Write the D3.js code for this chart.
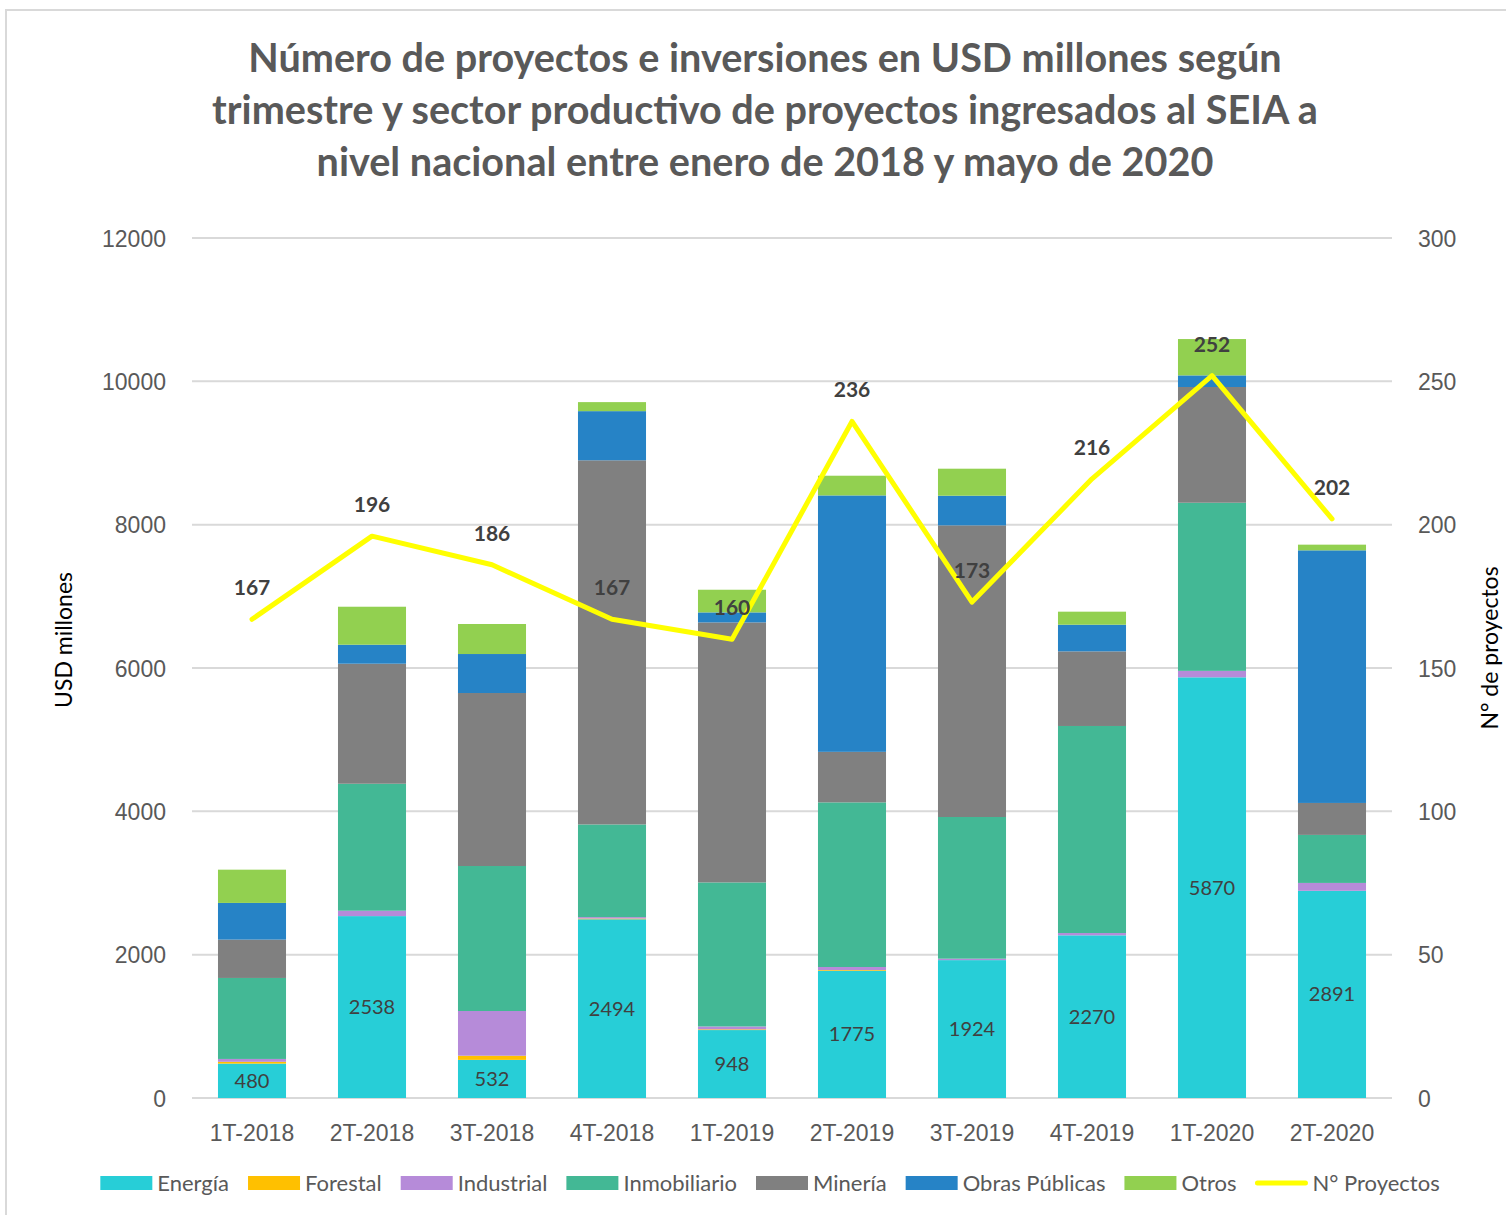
<!DOCTYPE html>
<html>
<head>
<meta charset="utf-8">
<script src="https://cdn.jsdelivr.net/npm/d3@7"></script>
<style>
  body { margin: 0; background: #fff; }
  svg { display: block; font-family: Lato, "Open Sans", sans-serif; }
</style>
</head>
<body>
<svg id="chart" width="1506" height="1215"></svg>
<script>
// quarters on the x axis
const quarters = ["1T-2018", "2T-2018", "3T-2018", "4T-2018", "1T-2019", "2T-2019", "3T-2019", "4T-2019", "1T-2020", "2T-2020"]
// investment by sector, USD millones
const energia      = [480, 2538, 532, 2494, 948, 1775, 1924, 2270, 5870, 2891]
const forestal     = [25, 0, 58, 10, 10, 10, 0, 0, 0, 0]
const industrial   = [40, 75, 624, 20, 40, 43, 20, 32, 90, 110]
const inmobiliario = [1130, 1772, 2023, 1293, 2010, 2297, 1977, 2889, 2346, 670]
const mineria      = [535, 1675, 2414, 5081, 3628, 705, 4069, 1041, 1615, 446]
const obras        = [512, 265, 544, 686, 140, 3578, 414, 372, 162, 3525]
const otros        = [464, 530, 419, 126, 316, 275, 377, 182, 507, 79]
// number of projects (right axis)
const proyectos    = [167, 196, 186, 167, 160, 236, 173, 216, 252, 202]

const sectorNames  = ["Energía", "Forestal", "Industrial", "Inmobiliario", "Minería", "Obras Públicas", "Otros"]
const sectorColors = ["#27CED7", "#FFC000", "#B68BD9", "#43B895", "#808080", "#2683C6", "#92D050"]
const leftTicks  = [0, 2000, 4000, 6000, 8000, 10000, 12000]
const rightTicks = [0, 50, 100, 150, 200, 250, 300]
const titleLines = [
  "Número de proyectos e inversiones en USD millones según",
  "trimestre y sector productivo de proyectos ingresados al SEIA a",
  "nivel nacional entre enero de 2018 y mayo de 2020"
]

const svg = d3.select("#chart")
const width = +svg.attr("width")
const height = +svg.attr("height")
const margins = {left: 192, right: 114, top: 238, bottom: 117}
const textGrey = "#595959"
const labelGrey = "#404040"

// chart border (light frame)
svg.append("path")
  .attr("d", `M6,${height} V10 H${width}`)
  .attr("fill", "none")
  .attr("stroke", "#D9D9D9")
  .attr("stroke-width", 2)

// title
svg.append("g").selectAll("text")
  .data(titleLines)
  .join("text")
  .attr("x", 765)
  .attr("y", (d, i) => 72 + i * 52)
  .attr("text-anchor", "middle")
  .attr("font-weight", "bold")
  .attr("font-size", 39.6)
  .attr("fill", textGrey)
  .text(d => d)

// scales
const x = d3.scaleBand()
  .domain(quarters)
  .range([margins.left, width - margins.right])
  .paddingInner(0.433)
  .paddingOuter(0.2165)
const yLeft = d3.scaleLinear()
  .domain([0, 12000])
  .range([height - margins.bottom, margins.top])
const yRight = d3.scaleLinear()
  .domain([0, 300])
  .range([height - margins.bottom, margins.top])

// gridlines
svg.append("g").selectAll("line")
  .data(leftTicks)
  .join("line")
  .attr("x1", margins.left)
  .attr("x2", width - margins.right)
  .attr("y1", d => yLeft(d))
  .attr("y2", d => yLeft(d))
  .attr("stroke", "#D9D9D9")
  .attr("stroke-width", 2)

// axes
const leftAxis = svg.append("g")
  .attr("transform", `translate(${margins.left - 26},0)`)
  .call(d3.axisLeft(yLeft).tickValues(leftTicks).tickFormat(d3.format("d")).tickSize(0).tickPadding(0))
const rightAxis = svg.append("g")
  .attr("transform", `translate(${width - margins.right + 26},0)`)
  .call(d3.axisRight(yRight).tickValues(rightTicks).tickFormat(d3.format("d")).tickSize(0).tickPadding(0))
const bottomAxis = svg.append("g")
  .attr("transform", `translate(0,${height - margins.bottom})`)
  .call(d3.axisBottom(x).tickSize(0).tickPadding(27))
;[leftAxis, rightAxis, bottomAxis].forEach(g => {
  g.select(".domain").remove()
  g.selectAll("text").attr("font-size", 23).attr("fill", textGrey).attr("font-family", null)
})
leftAxis.selectAll("text").attr("dy", "0.35em")
rightAxis.selectAll("text").attr("dy", "0.35em")

// axis titles
svg.append("text")
  .attr("transform", "rotate(-90)")
  .attr("x", -640)
  .attr("y", 72)
  .attr("text-anchor", "middle")
  .attr("font-size", 23)
  .attr("fill", "#000")
  .text("USD millones")
svg.append("text")
  .attr("transform", "rotate(-90)")
  .attr("x", -648)
  .attr("y", 1498)
  .attr("text-anchor", "middle")
  .attr("font-size", 23)
  .attr("fill", "#000")
  .text("N° de proyectos")

// stacked bars
const rows = quarters.map((q, i) => ({
  quarter: q,
  "Energía": energia[i],
  "Forestal": forestal[i],
  "Industrial": industrial[i],
  "Inmobiliario": inmobiliario[i],
  "Minería": mineria[i],
  "Obras Públicas": obras[i],
  "Otros": otros[i]
}))
const stacked = d3.stack().keys(sectorNames)(rows)

svg.append("g").selectAll("g")
  .data(stacked)
  .join("g")
  .attr("fill", (d, i) => sectorColors[i])
  .selectAll("rect")
  .data(d => d)
  .join("rect")
  .attr("x", d => x(d.data.quarter))
  .attr("width", x.bandwidth())
  .attr("y", d => yLeft(d[1]))
  .attr("height", d => yLeft(d[0]) - yLeft(d[1]))

// Energía value labels, centred in the segment
svg.append("g").selectAll("text")
  .data(stacked[0])
  .join("text")
  .attr("x", d => x(d.data.quarter) + x.bandwidth() / 2)
  .attr("y", d => (yLeft(d[0]) + yLeft(d[1])) / 2)
  .attr("dy", "0.35em")
  .attr("text-anchor", "middle")
  .attr("font-size", 20)
  .attr("fill", labelGrey)
  .text(d => d.data["Energía"])

// line for number of projects
const line = d3.line()
  .x((d, i) => x(quarters[i]) + x.bandwidth() / 2)
  .y(d => yRight(d))
svg.append("path")
  .datum(proyectos)
  .attr("d", line)
  .attr("fill", "none")
  .attr("stroke", "#FFFF00")
  .attr("stroke-width", 5)
  .attr("stroke-linejoin", "round")
  .attr("stroke-linecap", "round")
svg.append("g").selectAll("text")
  .data(proyectos)
  .join("text")
  .attr("x", (d, i) => x(quarters[i]) + x.bandwidth() / 2)
  .attr("y", d => yRight(d) - 24)
  .attr("text-anchor", "middle")
  .attr("font-size", 21)
  .attr("font-weight", "bold")
  .attr("fill", labelGrey)
  .text(d => d)

// legend
const legendItems = sectorNames.map((n, i) => ({name: n, color: sectorColors[i], type: "rect"}))
  .concat([{name: "N° Proyectos", color: "#FFFF00", type: "line"}])
const legend = svg.append("g").attr("transform", "translate(0,1183)")
const items = legend.selectAll("g")
  .data(legendItems)
  .join("g")
items.each(function(d) {
  const g = d3.select(this)
  if (d.type === "rect") {
    g.append("rect").attr("x", 0).attr("y", -7).attr("width", 52).attr("height", 14).attr("fill", d.color)
  } else {
    g.append("line").attr("x1", 2).attr("x2", 50).attr("y1", 0).attr("y2", 0)
      .attr("stroke", d.color).attr("stroke-width", 5).attr("stroke-linecap", "round")
  }
  g.append("text")
    .attr("x", 57)
    .attr("dy", "0.35em")
    .attr("font-size", 22)
    .attr("fill", textGrey)
    .text(d.name)
})
// place the legend items one after another, centred
let offsets = []
let cursor = 0
items.each(function() {
  offsets.push(cursor)
  cursor += 57 + this.querySelector("text").getComputedTextLength() + 19
})
const total = cursor - 19
const start = 770 - total / 2
items.attr("transform", (d, i) => `translate(${start + offsets[i]},0)`)
</script>
</body>
</html>
